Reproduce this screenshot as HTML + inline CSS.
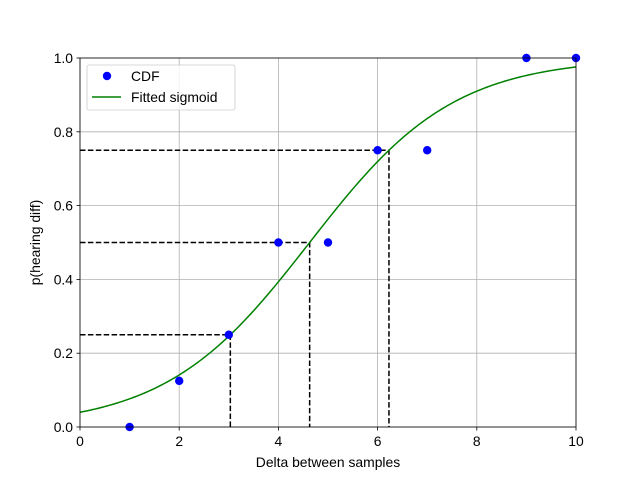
<!DOCTYPE html>
<html><head><meta charset="utf-8"><style>body{margin:0;background:#fff}svg{display:block;font-family:"Liberation Sans","DejaVu Sans",sans-serif}</style></head>
<body>
<svg id="chart" width="640" height="480"></svg>
<script>
const xTicks=[0,2,4,6,8,10];
const yTicks=[0,0.2,0.4,0.6,0.8,1.0];
const cdfX=[1,2,3,4,5,6,7,9,10];
const cdfY=[0,0.125,0.25,0.5,0.5,0.75,0.75,1,1];
const fitCenter=[4.63];
const fitSlope=[0.687];
const quantiles=[0.25,0.5,0.75];
const NS='http://www.w3.org/2000/svg';
const svg=document.getElementById('chart');
const L=80,R=576,T=58,B=427;
const FS=13.9;
const sx=v=>L+(v-0)/10*(R-L);
const sy=v=>B-v*(B-T);
function el(t,a,p){const e=document.createElementNS(NS,t);for(const k in a)e.setAttribute(k,a[k]);(p||svg).appendChild(e);return e;}
const sig=x=>1/(1+Math.exp(-fitSlope[0]*(x-fitCenter[0])));
const inv=q=>fitCenter[0]-Math.log(1/q-1)/fitSlope[0];
el('rect',{x:L,y:T,width:R-L,height:B-T,fill:'#fff'});
xTicks.forEach(t=>{const g=el('line',{x1:sx(t),x2:sx(t),y1:T,y2:B,stroke:'#b0b0b0','stroke-width':0.8});

el('line',{x1:sx(t),x2:sx(t),y1:B,y2:B+3.5,stroke:'#000','stroke-width':0.8});
const tx=el('text',{x:sx(t),y:B+19,'text-anchor':'middle','font-size':FS,fill:'#000'});tx.textContent=t;
});
yTicks.forEach(t=>{const g=el('line',{x1:L,x2:R,y1:sy(t),y2:sy(t),stroke:'#b0b0b0','stroke-width':0.8});

el('line',{x1:L-3.5,x2:L,y1:sy(t),y2:sy(t),stroke:'#000','stroke-width':0.8});
const tx=el('text',{x:L-7,y:sy(t)+5,'text-anchor':'end','font-size':FS,fill:'#000'});tx.textContent=t.toFixed(1);
});
quantiles.forEach(q=>{const xq=inv(q);
const p=el('polyline',{points:`${sx(0)},${sy(q)} ${sx(xq)},${sy(q)} ${sx(xq)},${sy(0)}`,fill:'none',stroke:'#000','stroke-width':1.5,'stroke-dasharray':'5.5,2.4'});
});
let pts=[];for(let i=0;i<=200;i++){const x=i/20;pts.push(sx(x)+','+sy(sig(x)));}
const fl=el('polyline',{points:pts.join(' '),fill:'none',stroke:'#008000','stroke-width':1.5});

cdfX.forEach((x,i)=>{const c=el('circle',{cx:sx(x),cy:sy(cdfY[i]),r:4.2,fill:'#0000ff'});
});
el('rect',{x:L,y:T,width:R-L,height:B-T,fill:'none',stroke:'#000','stroke-width':0.8});
const xl=el('text',{x:(L+R)/2,y:467,'text-anchor':'middle','font-size':FS});xl.textContent='Delta between samples';

const yl=el('text',{x:0,y:0,'text-anchor':'middle','font-size':FS,transform:`translate(40,${(T+B)/2}) rotate(-90)`});yl.textContent='p(hearing diff)';

const lg=el('g',{});
el('rect',{x:87,y:65,width:148,height:45,rx:2,fill:'#fff','fill-opacity':0.8,stroke:'#ccc','stroke-width':0.8},lg);
el('circle',{cx:107,cy:76,r:4.2,fill:'#0000ff'},lg);
const t1=el('text',{x:131,y:81,'font-size':FS},lg);t1.textContent='CDF';
el('line',{x1:92,x2:121,y1:97,y2:97,stroke:'#008000','stroke-width':1.5},lg);
const t2=el('text',{x:131,y:102,'font-size':FS},lg);t2.textContent='Fitted sigmoid';
</script>
</body></html>
